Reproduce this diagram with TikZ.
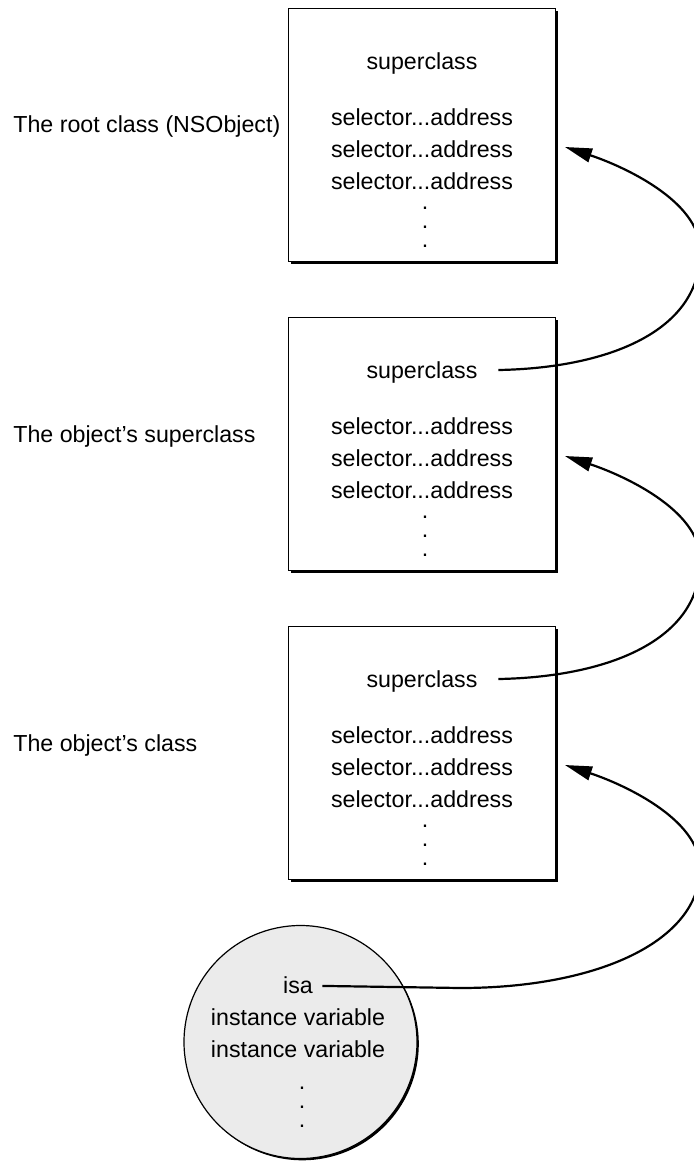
\documentclass[tikz,border=0pt]{standalone}
\usepackage{fontspec}
\setmainfont{Liberation Sans}
\usetikzlibrary{arrows.meta,shadows}
\begin{document}
\begin{tikzpicture}[x=0.5pt,y=-0.5pt,
  txt/.style={inner sep=0pt,anchor=base,font=\fontsize{11.6pt}{14pt}\selectfont},
  lbl/.style={txt,anchor=base west},
  dots/.style={inner sep=0pt,anchor=center,align=center,font=\fontsize{11.6pt}{9.5pt}\selectfont},
  classbox/.style={draw=black,line width=0.7pt,fill=white,minimum width=133.5pt,minimum height=126.5pt,inner sep=0pt,anchor=north west,
    drop shadow={shadow xshift=1.1pt,shadow yshift=-1.1pt,opacity=1,fill=black}},
  objcircle/.style={circle,draw=black,line width=0.6pt,fill=black!8,minimum size=116.5pt,inner sep=0pt,
    drop shadow={shadow xshift=0.9pt,shadow yshift=-0.9pt,opacity=1,fill=black}},
  link/.style={draw=black,line width=1.1pt,-{Triangle[length=13.5pt,width=7pt]}}
]
\useasboundingbox (0,0) rectangle (694,1164);
\clip (0,0) rectangle (694,1164);

% boxes
\node[classbox] (b1) at (288,8) {};
\node[classbox] (b2) at (288,317) {};
\node[classbox] (b3) at (288,626) {};

% labels
\node[lbl] (l1) at (13,132) {The root class (NSObject)};
\node[lbl] (l2) at (13,442) {The object’s superclass};
\node[lbl] (l3) at (13,751) {The object’s class};

% box 1 text
\node[txt] (s1) at (422,69) {superclass};
\node[txt] (a1) at (422,125) {selector...address};
\node[txt] (a2) at (422,157) {selector...address};
\node[txt] (a3) at (422,189) {selector...address};
\node[dots] (d1) at (425,227) {.\\.\\.};

% box 2 text
\node[txt,inner xsep=10.25pt] (s2) at (422,378) {superclass};
\node[txt] (b2a1) at (422,434) {selector...address};
\node[txt] (b2a2) at (422,466) {selector...address};
\node[txt] (b2a3) at (422,498) {selector...address};
\node[dots] (d2) at (425,536) {.\\.\\.};

% box 3 text
\node[txt,inner xsep=10.25pt] (s3) at (422,687) {superclass};
\node[txt] (b3a1) at (422,743) {selector...address};
\node[txt] (b3a2) at (422,775) {selector...address};
\node[txt] (b3a3) at (422,807) {selector...address};
\node[dots] (d3) at (425,845) {.\\.\\.};

% object
\node[objcircle] (obj) at (300.5,1042) {};
\node[txt,inner xsep=4.6pt] (isa) at (298,993) {isa};
\node[txt] (iv1) at (298,1025) {instance variable};
\node[txt] (iv2) at (298,1057) {instance variable};
\node[dots] (d4) at (302,1107) {.\\.\\.};

% arrow targets
\coordinate (in1) at (565,147);
\coordinate (in2) at (565,456);
\coordinate (in3) at (565,765);

% connectors
\draw[link] ([yshift=1pt]s2.east) .. controls (610,368) and (702,330) .. (700,250)
  .. controls (700,200) and (620,165) .. (in1);
\draw[link] ([yshift=1pt]s3.east) .. controls (610,677) and (702,639) .. (700,559)
  .. controls (700,509) and (620,474) .. (in2);
\draw[link] ([yshift=-0.6pt]isa.east) -- (460,988) .. controls (600,988) and (700,940) .. (700,868)
  .. controls (700,818) and (620,783) .. (in3);
\end{tikzpicture}
\end{document}
